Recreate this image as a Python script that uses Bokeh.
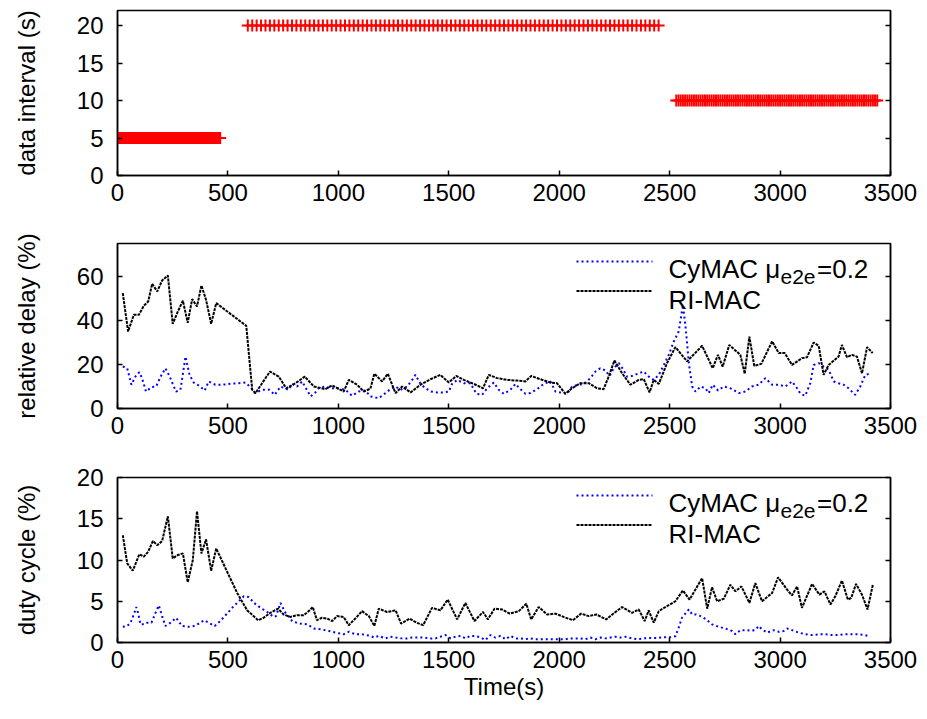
from bokeh.plotting import figure
from bokeh.models import Range1d, LinearAxis, Label, Arrow, FixedTicker
from bokeh.layouts import column
from bokeh.embed import file_html
from bokeh.resources import INLINE

FONT = "Liberation Sans"

# ---------------- data ----------------
x_ticks = [0, 500, 1000, 1500, 2000, 2500, 3000, 3500]
interval_y_ticks = [0, 5, 10, 15, 20]
delay_y_ticks = [0, 20, 40, 60]
duty_y_ticks = [0, 5, 10, 15, 20]

# data interval phases: start time, end time, interval (s) -> one packet each interval
phase_start = [0, 590, 2530]
phase_end = [465, 2450, 3440]
phase_interval = [5, 20, 10]

delay_cymac_t = [24, 44, 63, 81, 99, 111, 129, 154, 175, 195, 217, 235, 250, 265, 285, 308, 326, 345, 371, 395,
                 413, 443, 474, 511, 549, 579, 602, 622, 655, 688, 712, 738, 775, 791, 813, 836, 874, 896, 911, 938,
                 964, 994, 1032, 1062, 1092, 1122, 1145, 1183, 1213, 1236, 1259, 1281, 1312, 1334, 1349, 1372, 1394,
                 1420, 1447, 1477, 1500, 1515, 1538, 1568, 1598, 1625, 1651, 1674, 1704, 1726, 1749, 1779, 1802, 1824,
                 1847, 1870, 1900, 1930, 1960, 1983, 2005, 2036, 2058, 2089, 2111, 2141, 2164, 2186, 2209, 2228, 2247,
                 2270, 2289, 2307, 2330, 2360, 2383, 2405, 2428, 2451, 2474, 2496, 2519, 2541, 2560, 2572, 2587, 2602,
                 2617, 2640, 2662, 2677, 2695, 2719, 2745, 2775, 2813, 2843, 2873, 2903, 2933, 2964, 2994, 3024, 3054,
                 3077, 3092, 3114, 3137, 3152, 3175, 3197, 3220, 3243, 3265, 3288, 3310, 3340, 3363, 3386, 3404]
delay_cymac = [19.1, 18.3, 10.8, 14.5, 16.5, 13.8, 7.7, 9.7, 10, 14.5, 18.3, 14.8, 11.2, 7.7, 8.5, 23.6, 15.3, 11.8,
               10.3, 8.2, 12.3, 10.8, 10.8, 11.2, 11.5, 11.8, 9.7, 7, 8.5, 8.5, 6.2, 10, 8.5, 11.2, 10, 12.3, 5.5, 7.3,
               9.2, 10, 9.2, 9.2, 8.5, 5.8, 7.7, 8.2, 5.5, 4.7, 7, 8.8, 10, 8.5, 10, 13, 15.3, 11.2, 9.2, 7.7, 7.3, 7.3,
               7.7, 11.2, 13, 11.5, 11.5, 6.7, 6.2, 9.2, 11.8, 8.5, 6.7, 8.5, 11.2, 8.8, 6.7, 7, 8.8, 11.2, 12.3, 7.7,
               7.3, 6.7, 10, 10.8, 11.2, 13.8, 16.8, 18.3, 17.3, 14.8, 18.3, 20.6, 17.9, 14.5, 14.8, 16, 16.8, 14.5,
               13, 15.3, 19.8, 24.4, 30.5, 35, 47, 37.3, 20.6, 10, 7.7, 10, 9.2, 7, 10.8, 8.2, 10, 9.2, 7, 7.7, 10,
               10.8, 13.8, 10.8, 10.8, 10, 12.3, 9.2, 6.7, 5.8, 11.5, 19.8, 20.6, 19.1, 17.6, 12.3, 11.5, 10.8, 9.2,
               6.2, 10, 15.3, 15.8]

delay_rimac_t = [24, 48, 74, 97, 119, 139, 157, 180, 202, 228, 250, 273, 296, 318, 338, 360, 380, 401, 424, 447,
                 583, 610, 625, 690, 730, 764, 806, 848, 889, 941, 972, 1024, 1047, 1085, 1115, 1145, 1163, 1198,
                 1224, 1259, 1289, 1327, 1372, 1417, 1462, 1500, 1534, 1568, 1613, 1655, 1681, 1719, 1764, 1809, 1847,
                 1873, 1915, 1960, 1990, 2028, 2058, 2096, 2134, 2171, 2201, 2224, 2250, 2285, 2322, 2360, 2383, 2409,
                 2428, 2451, 2488, 2526, 2579, 2647, 2695, 2719, 2740, 2770, 2820, 2840, 2861, 2883, 2915, 2964, 2994,
                 3021, 3054, 3099, 3122, 3152, 3175, 3197, 3220, 3265, 3280, 3303, 3325, 3348, 3371, 3394, 3419]
delay_rimac = [52.4, 35, 42.6, 42.6, 46.7, 48.6, 56.7, 53.2, 58.2, 60.5, 38.5, 44, 49, 39, 49.7, 46.4, 55.9, 49.4,
               38.5, 47.9, 37.6, 8.5, 7, 16.8, 14.5, 9.2, 11.5, 14.5, 10, 8.8, 10.5, 7.7, 13, 10.8, 7.7, 9, 15.8,
               12.3, 15.8, 7, 10, 7.3, 10.8, 13.3, 15.3, 11.8, 14.8, 13, 11.2, 9.2, 15.3, 13.8, 13, 12.7, 12.3, 14.8,
               13.3, 11.8, 11.5, 6.7, 9.2, 11.5, 11.5, 9.2, 8.8, 14.5, 21.8, 16, 10.8, 13, 13.3, 7.3, 13, 11.2, 20.6,
               27.9, 21.4, 28.5, 18.3, 24.4, 19, 28.9, 24.4, 15.8, 32.7, 19.4, 20.3, 30.5, 25.2, 25.2, 19.8, 22.9,
               23.3, 30, 28.5, 15.3, 19.8, 23.6, 28.9, 23.3, 24.4, 23.6, 16, 27.9, 25.2]

duty_cymac_t = [24, 44, 59, 74, 85, 93, 104, 119, 134, 154, 169, 187, 202, 217, 240, 265, 292, 323, 345, 369, 392,
                413, 440, 465, 496, 519, 542, 572, 595, 618, 648, 678, 707, 718, 738, 758, 791, 821, 859, 889, 919,
                957, 987, 1024, 1047, 1077, 1107, 1145, 1163, 1183, 1213, 1236, 1259, 1289, 1312, 1334, 1364, 1387,
                1417, 1440, 1462, 1485, 1508, 1530, 1553, 1575, 1598, 1621, 1644, 1666, 1689, 1711, 1734, 1757, 1779,
                1802, 1824, 1847, 1870, 1892, 1915, 1938, 1960, 1983, 2005, 2028, 2051, 2073, 2096, 2119, 2141, 2164,
                2186, 2209, 2232, 2254, 2277, 2300, 2330, 2353, 2383, 2413, 2443, 2474, 2504, 2526, 2541, 2556, 2568,
                2587, 2602, 2620, 2640, 2665, 2692, 2722, 2752, 2783, 2798, 2821, 2851, 2873, 2891, 2903, 2918, 2941,
                2971, 2994, 3017, 3032, 3054, 3084, 3114, 3145, 3175, 3205, 3235, 3265, 3295, 3325, 3356, 3383, 3409]
duty_cymac = [1.9, 2, 2.4, 3.4, 4.3, 3.6, 2.2, 2.2, 2.4, 2.4, 3.4, 4.5, 3.2, 2, 2.4, 3, 2, 1.9, 2, 2.3, 2.7, 2.4, 2,
              2.6, 3.5, 4.2, 4.8, 5.6, 5.5, 4.8, 4.2, 3.7, 3.1, 3.2, 4.8, 3.7, 2.6, 2.3, 2.2, 1.7, 1.6, 1.4, 1.2, 1,
              1.3, 1, 1, 0.8, 0.6, 0.8, 0.5, 0.7, 0.6, 0.5, 0.5, 0.6, 0.6, 0.6, 0.5, 0.5, 0.7, 0.9, 0.5, 0.7, 0.8,
              0.5, 0.8, 0.8, 0.6, 0.3, 0.9, 0.6, 0.8, 0.4, 0.8, 0.5, 0.5, 0.4, 0.5, 0.4, 0.4, 0.4, 0.4, 0.4, 0.4,
              0.4, 0.5, 0.5, 0.5, 0.4, 0.6, 0.4, 0.6, 0.5, 0.6, 0.7, 0.6, 0.7, 0.5, 0.4, 0.5, 0.55, 0.55, 0.65, 0.65,
              0.75, 1.8, 3, 3.4, 4, 3.4, 3.4, 3.2, 2.8, 2.2, 1.9, 1.7, 1.4, 1, 1.5, 1.5, 1.4, 1.6, 2, 1.6, 1.2, 1.5,
              1.3, 1.4, 1.7, 1.5, 1.2, 1, 0.9, 1, 1, 0.9, 0.9, 1, 1, 1, 0.9, 0.75]

duty_rimac_t = [24, 44, 69, 99, 119, 139, 160, 180, 202, 228, 250, 273, 296, 318, 341, 360, 380, 401, 424, 447, 496,
                542, 587, 637, 662, 692, 727, 752, 783, 813, 843, 866, 884, 903, 926, 949, 972, 994, 1024, 1047, 1077,
                1107, 1138, 1163, 1183, 1221, 1259, 1284, 1323, 1354, 1384, 1424, 1462, 1495, 1538, 1575, 1616, 1655,
                1677, 1707, 1741, 1776, 1817, 1851, 1873, 1907, 1945, 1983, 2020, 2062, 2099, 2134, 2168, 2213, 2250,
                2285, 2330, 2360, 2387, 2405, 2428, 2451, 2481, 2526, 2560, 2590, 2647, 2670, 2692, 2715, 2745, 2775,
                2798, 2825, 2861, 2888, 2918, 2964, 2991, 3032, 3054, 3077, 3099, 3145, 3178, 3201, 3228, 3250, 3280,
                3307, 3322, 3344, 3371, 3396, 3420]
duty_rimac = [13, 9.6, 8.7, 10.7, 10.4, 11, 12.3, 11.8, 12.3, 15.3, 10.2, 10.6, 10.8, 7.3, 10, 15.9, 10.8, 12.5, 8.7,
              11.4, 8.6, 6.0, 3.9, 2.7, 3.0, 3.6, 4.1, 3.4, 3.1, 3.3, 3.3, 3.8, 4.3, 2.7, 3, 2.9, 2.6, 3.2, 3.1, 2.1,
              2.9, 3.8, 3.2, 2.0, 4.1, 3.7, 3.9, 2.3, 2.9, 2.4, 2.1, 4.2, 3.9, 5.2, 2.8, 4.8, 2.6, 3.7, 2.8, 4.1, 4,
              3.5, 3.8, 4.7, 2.8, 4.3, 3.4, 3.5, 3.1, 2.7, 3.5, 3.2, 3.4, 2.8, 3.6, 4.3, 3.6, 4, 2.6, 3.9, 2.4, 3.8,
              4.3, 5, 6.3, 5.2, 7.8, 4.1, 6.7, 5, 5.3, 7, 6.2, 6.8, 4.8, 7.2, 5, 6, 7.9, 6.4, 5.7, 6.8, 4.2, 7.1, 5.8,
              6.2, 4.6, 5.6, 7.5, 5.2, 5.4, 7.1, 5.8, 4, 7]

legend_labels = ["CyMAC \u03bc", "e2e", "=0.2", "RI-MAC"]

# ---------------- layout constants ----------------
FRAME_W = 773
FRAME_H = 165
X_MAX = 3500


def make_fig(height, top, bottom, ymax, yticks, ylabel, xlabel=None):
    p = figure(width=919, height=height, x_range=Range1d(0, X_MAX), y_range=Range1d(0, ymax),
               output_backend="svg", toolbar_location=None,
               min_border_left=117, min_border_right=29, min_border_top=top, min_border_bottom=bottom)
    p.xgrid.visible = False
    p.ygrid.visible = False
    p.outline_line_color = "black"
    p.outline_line_width = 1.5
    p.outline_line_alpha = 1.0
    p.background_fill_color = "white"
    p.border_fill_color = "white"
    right = LinearAxis()
    p.add_layout(right, "right")
    for ax in [p.xaxis[0], p.yaxis[0], right]:
        ax.axis_line_color = "black"
        ax.axis_line_width = 1.5
        ax.major_tick_in = 5
        ax.major_tick_out = 0
        ax.major_tick_line_width = 1.5
        ax.major_tick_line_color = "black"
        ax.minor_tick_line_color = None
        ax.major_label_text_font = FONT
        ax.major_label_text_font_size = "24px"
        ax.major_label_text_color = "black"
        ax.axis_label_text_font = FONT
        ax.axis_label_text_font_size = "24px"
        ax.axis_label_text_font_style = "normal"
        ax.axis_label_text_color = "black"
    p.xaxis[0].ticker = FixedTicker(ticks=x_ticks)
    p.xaxis[0].major_label_standoff = 8
    p.yaxis[0].ticker = FixedTicker(ticks=yticks)
    p.yaxis[0].major_label_standoff = 14
    p.yaxis[0].axis_label = ylabel
    p.yaxis[0].axis_label_standoff = 34
    right.ticker = FixedTicker(ticks=yticks)
    right.major_label_overrides = {t: "" for t in yticks}
    right.major_label_standoff = 0
    if xlabel:
        p.xaxis[0].axis_label = xlabel
        p.xaxis[0].axis_label_standoff = 2
    return p


def add_legend(p, ymax):
    def fy(off):
        return ymax - off / FRAME_H * ymax

    def fx(px):
        return px / FRAME_W * X_MAX

    p.add_layout(Arrow(end=None, x_start=fx(459), x_end=fx(535), y_start=fy(18), y_end=fy(18),
                       line_color="blue", line_width=2, line_dash="2 3"))
    p.add_layout(Arrow(end=None, x_start=fx(459), x_end=fx(535), y_start=fy(47.5), y_end=fy(47.5),
                       line_color="black", line_width=2, line_dash="3 1"))
    specs = [(legend_labels[0], 551, 25, "26px"), (legend_labels[1], 663, 33, "21px"),
             (legend_labels[2], 699.5, 25, "26px"), (legend_labels[3], 551, 56.5, "26px")]
    for txt, px, off, fs in specs:
        p.add_layout(Label(x=fx(px), y=fy(off), text=txt, text_font=FONT, text_font_size=fs,
                           text_color="black", text_align="left", text_baseline="alphabetic"))


# ---------------- panel 1: data interval ----------------
p1 = make_fig(225, 10, 50, 22, interval_y_ticks, "data interval (s)")
pkt_t, pkt_v = [], []
for s, e, iv in zip(phase_start, phase_end, phase_interval):
    t = s
    while t <= e:
        pkt_t.append(t)
        pkt_v.append(iv)
        t += iv
p1.scatter(pkt_t, pkt_v, marker="cross", size=12, line_color="red", line_width=2)

# ---------------- panel 2: relative delay ----------------
p2 = make_fig(233, 18, 50, 75, delay_y_ticks, "relative delay (%)")
p2.line(delay_cymac_t, delay_cymac, line_color="blue", line_width=2, line_dash="2 3")
p2.line(delay_rimac_t, delay_rimac, line_color="black", line_width=2, line_dash="3 1")
add_legend(p2, 75)

# ---------------- panel 3: duty cycle ----------------
p3 = make_fig(253, 19, 69, 20, duty_y_ticks, "duty cycle (%)", xlabel="Time(s)")
p3.line(duty_cymac_t, duty_cymac, line_color="blue", line_width=2, line_dash="2 3")
p3.line(duty_rimac_t, duty_rimac, line_color="black", line_width=2, line_dash="3 1")
add_legend(p3, 20)

layout = column(p1, p2, p3, spacing=0)
open("out.html", "w").write(file_html(layout, INLINE))
